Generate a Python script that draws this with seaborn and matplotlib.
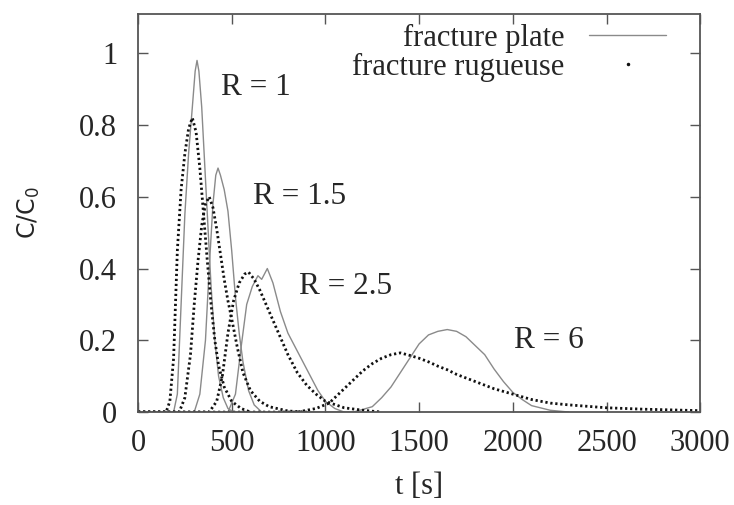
import numpy as np
import pandas as pd
import seaborn as sns
import matplotlib.pyplot as plt
from matplotlib.lines import Line2D

# fracture plate (smooth walls)
t_p1 = [0, 190, 210, 230, 250, 270, 290, 305, 315, 325, 340, 355, 370, 390, 410, 430, 455, 480, 510]
c_p1 = [0, 0, 0.05, 0.30, 0.55, 0.72, 0.85, 0.95, 0.98, 0.95, 0.85, 0.70, 0.55, 0.35, 0.20, 0.10, 0.04, 0.01, 0]
t_p15 = [0, 300, 330, 360, 380, 400, 415, 427, 440, 460, 480, 500, 520, 540, 560, 590, 620, 660]
c_p15 = [0, 0, 0.05, 0.20, 0.40, 0.58, 0.66, 0.68, 0.66, 0.62, 0.56, 0.45, 0.32, 0.22, 0.14, 0.06, 0.02, 0]
t_p25 = [0, 480, 520, 550, 580, 610, 640, 660, 690, 720, 760, 800, 840, 880, 920, 960, 1000, 1050, 1100]
c_p25 = [0, 0, 0.05, 0.18, 0.30, 0.35, 0.38, 0.37, 0.40, 0.36, 0.28, 0.22, 0.18, 0.14, 0.10, 0.06, 0.03, 0.01, 0]
t_p6 = [0, 1150, 1250, 1300, 1350, 1400, 1450, 1500, 1550, 1600, 1650, 1700, 1750, 1800, 1850, 1900,
        1950, 2000, 2050, 2100, 2200, 2300]
c_p6 = [0, 0, 0.015, 0.04, 0.07, 0.11, 0.15, 0.19, 0.215, 0.225, 0.23, 0.225, 0.21, 0.185, 0.16, 0.12,
        0.085, 0.055, 0.035, 0.018, 0.005, 0]

# fracture rugueuse (rough walls)
t_r1 = [0, 150, 170, 190, 210, 230, 250, 270, 290, 310, 330, 350, 370, 390, 410, 430, 460, 500, 550, 600]
c_r1 = [0, 0, 0.03, 0.15, 0.45, 0.62, 0.72, 0.79, 0.82, 0.78, 0.68, 0.55, 0.42, 0.30, 0.20, 0.13, 0.07, 0.03, 0.01, 0]
t_r15 = [0, 220, 250, 280, 300, 320, 340, 360, 380, 400, 420, 440, 460, 480, 500, 530, 560, 600, 650, 700, 800, 900]
c_r15 = [0, 0, 0.04, 0.16, 0.30, 0.42, 0.52, 0.58, 0.60, 0.57, 0.51, 0.44, 0.37, 0.31, 0.26, 0.18, 0.11,
         0.06, 0.03, 0.015, 0.003, 0]
t_r25 = [0, 380, 420, 450, 480, 510, 540, 570, 590, 620, 650, 700, 750, 800, 850, 900, 950, 1000, 1100, 1200, 1300]
c_r25 = [0, 0, 0.03, 0.10, 0.22, 0.31, 0.36, 0.385, 0.39, 0.37, 0.34, 0.28, 0.22, 0.16, 0.11, 0.075, 0.05,
         0.03, 0.012, 0.005, 0]
t_r6 = [0, 850, 950, 1020, 1080, 1150, 1200, 1250, 1300, 1350, 1400, 1450, 1500, 1550, 1600, 1650, 1700,
        1800, 1900, 2000, 2100, 2200, 2300, 2500, 2700, 3000]
c_r6 = [0, 0, 0.01, 0.025, 0.055, 0.09, 0.115, 0.135, 0.15, 0.16, 0.165, 0.158, 0.15, 0.14, 0.128, 0.118,
        0.105, 0.085, 0.065, 0.05, 0.035, 0.025, 0.02, 0.012, 0.008, 0.004]

plate = [(t_p1, c_p1), (t_p15, c_p15), (t_p25, c_p25), (t_p6, c_p6)]
rough = [(t_r1, c_r1), (t_r15, c_r15), (t_r25, c_r25), (t_r6, c_r6)]

r_labels = ['R = 1', 'R = 1.5', 'R = 2.5', 'R = 6']
r_pos = [(630, 0.905), (860, 0.60), (1105, 0.35), (2190, 0.20)]

sns.set_style('ticks')
plt.rcParams['font.family'] = ['Liberation Serif', 'DejaVu Serif']
plt.rcParams['mathtext.fontset'] = 'dejavusans'

fig = plt.figure(figsize=(7.34, 5.05), dpi=100)
ax = fig.add_axes([0.188, 0.184, 0.766, 0.788])

for t, c in plate:
    sns.lineplot(x=t, y=c, ax=ax, sort=False, color='#8a8a8a', lw=1.0)
for t, c in rough:
    sns.lineplot(x=t, y=c, ax=ax, sort=False, color='#111111', lw=2.0, ls=(0, (0.8, 1.0)))

for lab, (x, y) in zip(r_labels, r_pos):
    ax.text(x, y, lab, fontsize=22.5, ha='center', va='center')

ax.set_xlim(0, 3000)
ax.set_ylim(0, 1.109)
ax.set_xticks([0, 500, 1000, 1500, 2000, 2500, 3000])
ax.set_yticks([0, 0.2, 0.4, 0.6, 0.8, 1])
ax.set_yticklabels(['0', '0.2', '0.4', '0.6', '0.8', '1'])
ax.tick_params(direction='in', top=True, right=True, length=7, width=1, color='#555555',
               labelsize=22)
ax.tick_params(axis='x', pad=12)
ax.tick_params(axis='y', pad=15)
for s in ax.spines.values():
    s.set_color('#555555')
    s.set_linewidth(1.3)

ax.set_xlabel('t [s]', fontsize=22, labelpad=10)
ax.set_ylabel('C/C$_0$', fontsize=17, family='DejaVu Sans', labelpad=27)

handles = [Line2D([], [], color='#8a8a8a', lw=1.0),
           Line2D([], [], color='#111111', ls='none', marker='.', markersize=3)]
ax.legend(handles, ['fracture plate', 'fracture rugueuse'], loc='upper right',
          bbox_to_anchor=(0.978, 1.03), markerfirst=False, frameon=False, fontsize=22,
          handlelength=2.55, labelspacing=0.0, handletextpad=0.8, borderaxespad=0.3)

fig.savefig('out.png', dpi=100)
